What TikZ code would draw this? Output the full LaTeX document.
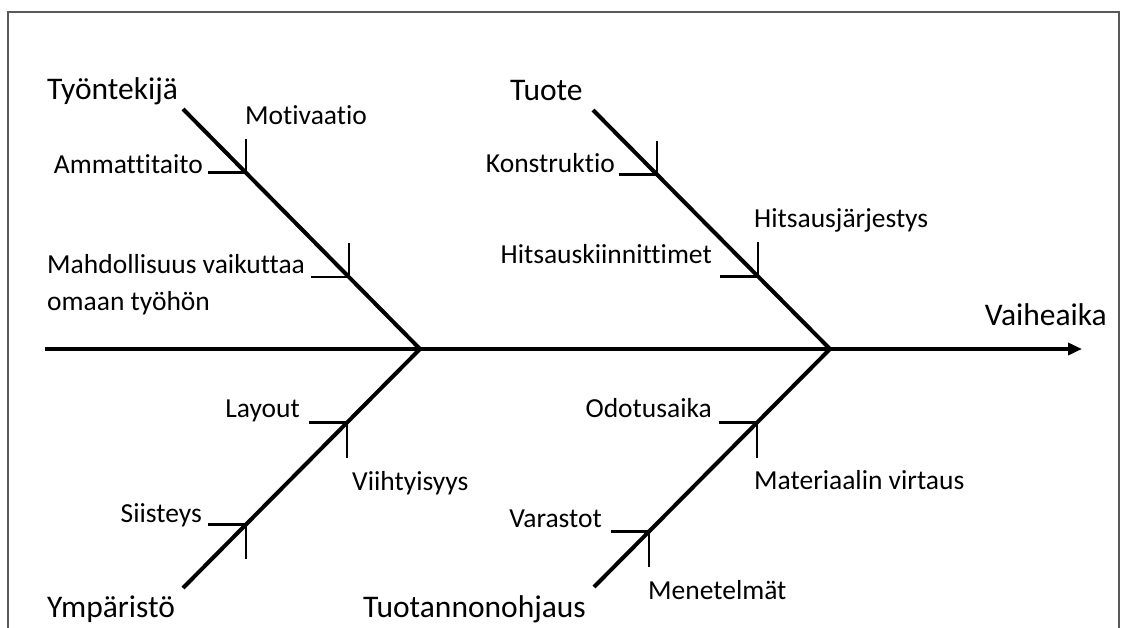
\documentclass[tikz,border=0pt]{standalone}
\usepackage{fontspec}
\setmainfont{Carlito}[Ligatures=NoCommon]
\usetikzlibrary{arrows.meta,calc}
\begin{document}
\begin{tikzpicture}[x=1pt,y=-1pt,
  bone/.style={line width=4pt,black},
  tickline/.style={line width=2.8pt,black},
  cat/.style={font=\fontsize{31.5}{36}\selectfont,inner sep=0pt,text=black},
  lab/.style={font=\fontsize{27.5}{37}\selectfont,inner sep=0pt,text=black},
  framebox/.style={draw=black!65,line width=1.5pt}]
\useasboundingbox (0,0) rectangle (1121,628);
\draw[framebox] (8,640) -- (8,12) -- (1119,12) -- (1119,640);
% spine and bones
\coordinate (s0) at (45,349);
\coordinate (tip) at (1082,349);
\coordinate (j1) at (420,349);
\coordinate (j2) at (830,349);
\coordinate (ul) at (183,109);
\coordinate (ur) at (593,110);
\coordinate (ll) at (183,588);
\coordinate (lr) at (594,587);
\draw[bone,-{Triangle[length=14pt,width=12pt]}] (s0) -- (tip);
\draw[bone] (ul) -- (j1);
\draw[bone] (ur) -- (j2);
\draw[bone] (ll) -- (j1);
\draw[bone] (lr) -- (j2);
% tick joints
\coordinate (a1) at ($(ul)!0.266!(j1)$);
\coordinate (a2) at ($(ul)!0.700!(j1)$);
\coordinate (b1) at ($(ur)!0.270!(j2)$);
\coordinate (b2) at ($(ur)!0.696!(j2)$);
\coordinate (c1) at ($(j1)!0.308!(ll)$);
\coordinate (c2) at ($(j1)!0.734!(ll)$);
\coordinate (d1) at ($(j2)!0.309!(lr)$);
\coordinate (d2) at ($(j2)!0.767!(lr)$);
\foreach \p in {a1,a2,b1,b2} {
  \coordinate (\p h) at ($(\p)+(-38,0)$);
  \coordinate (\p v) at ($(\p)+(0,-34)$);
  \draw[tickline] (\p h) -- (\p) -- (\p v);
}
\foreach \p in {c1,c2,d1,d2} {
  \coordinate (\p h) at ($(\p)+(-38,0)$);
  \coordinate (\p v) at ($(\p)+(0,35)$);
  \draw[tickline] (\p h) -- (\p) -- (\p v);
}
% labels
\node[cat,anchor=base west] (tyo) at (47,100) {Työntekijä};
\node[lab,anchor=base west] (mot) at (245,125) {Motivaatio};
\node[lab,anchor=base east] (amm) at (203,174) {Ammattitaito};
\node[lab,anchor=base west,align=left] (mah) at (47,310) {Mahdollisuus vaikuttaa\\omaan työhön};
\node[cat,anchor=base west] (tuo) at (510,101) {Tuote};
\node[lab,anchor=base east] (kon) at (615,173) {Konstruktio};
\node[lab,anchor=base west] (hj) at (754,228) {Hitsausjärjestys};
\node[lab,anchor=base east] (hk) at (712,263) {Hitsauskiinnittimet};
\node[cat,anchor=base east] (vai) at (1107,325) {Vaiheaika};
\node[lab,anchor=base east] (lay) at (300,417) {Layout};
\node[lab,anchor=base west] (vii) at (352,490) {Viihtyisyys};
\node[lab,anchor=base east] (sii) at (202,522) {Siisteys};
\node[cat,anchor=base west] (ymp) at (47,617) {Ympäristö};
\node[cat,anchor=base west] (tuot) at (363,617) {Tuotannonohjaus};
\node[lab,anchor=base east] (odo) at (712,417) {Odotusaika};
\node[lab,anchor=base west] (mat) at (754,489) {Materiaalin virtaus};
\node[lab,anchor=base east] (var) at (602,527) {Varastot};
\node[lab,anchor=base west] (men) at (648,599) {Menetelmät};
\end{tikzpicture}
\end{document}
